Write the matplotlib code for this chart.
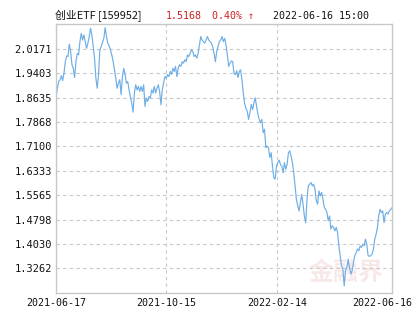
import matplotlib
matplotlib.use("Agg")
import matplotlib.pyplot as plt
from matplotlib.transforms import ScaledTranslation

plt.rcParams['font.family'] = ['Noto Sans CJK SC', 'DejaVu Sans']

# closing prices of the ETF (trading days)
prices = [
    1.864, 1.893, 1.914, 1.920, 1.933, 1.917, 1.941, 1.977, 1.995, 1.993,
    2.032, 2.009, 1.967, 1.956, 1.927, 1.977, 2.003, 1.998, 2.040, 2.066,
    2.045, 2.061, 2.040, 2.019, 2.035, 2.056, 2.082, 2.061, 2.024, 1.988,
    1.925, 1.893, 1.936, 2.014, 2.024, 2.038, 2.050, 2.084, 2.056, 2.035,
    2.027, 2.014, 1.998, 1.977, 1.951, 1.925, 1.893, 1.909, 1.920, 1.873,
    1.930, 1.956,
    1.936, 1.909, 1.914, 1.888, 1.867, 1.846, 1.818, 1.878, 1.904, 1.888,
    1.899, 1.883, 1.899, 1.883, 1.904, 1.836, 1.862, 1.852, 1.867, 1.862,
    1.888, 1.878, 1.899, 1.878, 1.893, 1.904, 1.883, 1.841, 1.888, 1.909,
    1.930, 1.925, 1.936, 1.930, 1.946, 1.937, 1.956, 1.946, 1.962, 1.930,
    1.956, 1.967, 1.962, 1.977, 1.972, 1.983, 1.977, 1.998,
    1.993, 2.003, 2.014, 2.009, 1.993, 1.998, 1.988, 2.003, 2.030, 2.056,
    2.045, 2.040, 2.035, 2.045, 2.056, 2.045, 2.040, 2.035, 2.024, 2.003,
    1.977, 2.009, 2.024, 2.040, 2.045, 2.056, 2.040, 2.050, 2.030, 1.998,
    1.962, 1.972, 1.979, 1.977, 1.941, 1.936, 1.948, 1.927, 1.946, 1.951,
    1.920, 1.878, 1.846, 1.829, 1.820,
    1.795, 1.816, 1.842, 1.826, 1.847, 1.863, 1.837, 1.811, 1.795, 1.785,
    1.795, 1.753, 1.764, 1.706, 1.711, 1.706, 1.675, 1.690, 1.648, 1.612,
    1.607, 1.648, 1.659, 1.667, 1.653, 1.648, 1.627, 1.659, 1.638, 1.653,
    1.690, 1.696, 1.680, 1.659, 1.627, 1.586, 1.544, 1.523, 1.507, 1.534,
    1.559, 1.528, 1.491, 1.470, 1.544, 1.586, 1.591, 1.596, 1.586, 1.591,
    1.575,
    1.539, 1.528, 1.570, 1.554, 1.565, 1.544, 1.518, 1.512, 1.502, 1.476,
    1.491, 1.450, 1.460, 1.455, 1.444, 1.455, 1.439, 1.397, 1.366, 1.334,
    1.324, 1.271, 1.319, 1.329, 1.355, 1.329, 1.308, 1.319, 1.345, 1.366,
    1.376, 1.387, 1.381, 1.397, 1.392, 1.402, 1.397, 1.418, 1.402, 1.366,
    1.364, 1.366, 1.371, 1.387, 1.418, 1.433, 1.455, 1.491, 1.512, 1.502,
    1.507, 1.470, 1.497, 1.502, 1.497, 1.507, 1.512, 1.5168,
]

y_tick_labels = ["1.3262", "1.4030", "1.4798", "1.5565", "1.6333",
                 "1.7100", "1.7868", "1.8635", "1.9403", "2.0171"]
y_limits = (1.2494, 2.0939)
date_labels = ["2021-06-17", "2021-10-15", "2022-02-14", "2022-06-16"]

title_name = "创业ETF [159952]"
title_price = "1.5168"
title_change = "0.40% ↑"
title_time = "2022-06-16 15:00"

mono = ['DejaVu Sans Mono']
fs = 7.2

fig = plt.figure(figsize=(4.15, 3.30), dpi=100)
ax = fig.add_axes([0.135, 0.113, 0.8096, 0.8128])

n = len(prices)
xs = list(range(n))
ax.plot(xs, prices, color='#6eaee6', linewidth=0.85)

ax.set_xlim(0, n - 1)
ax.set_ylim(*y_limits)

yticks = [float(v) for v in y_tick_labels]
ax.set_yticks(yticks)
ax.set_yticklabels(y_tick_labels, fontsize=7.5, family=mono)

xticks = [0, (n - 1) * 0.327, (n - 1) * 0.658, n - 1]
ax.set_xticks(xticks)
ax.set_xticklabels(date_labels, fontsize=fs, family=mono)
ax.tick_params(length=0, colors='#111111')
ax.tick_params(axis='y', pad=3)
ax.tick_params(axis='x', pad=4)
# last date label sits a bit inside the right edge
last = ax.get_xticklabels()[-1]
last.set_transform(last.get_transform() + ScaledTranslation(-0.10, 0, fig.dpi_scale_trans))

# dashed grid: all y ticks, only the two middle dates
for y in yticks:
    ax.axhline(y, color='#c8c8c8', linestyle=(0, (3, 3)), linewidth=0.8, zorder=0)
for x in xticks[1:3]:
    ax.axvline(x, color='#c8c8c8', linestyle=(0, (3, 3)), linewidth=0.8, zorder=0)

for s in ax.spines.values():
    s.set_color('#c8c8c8')
    s.set_linewidth(1.0)

# watermark
ax.text(0.975, 0.03, "金融界", transform=ax.transAxes, ha='right', va='bottom',
        fontsize=18, color='#e8b8b8', alpha=0.3, fontweight='bold', zorder=0)

# header line
ty = 1 - 16 / 330
fig.text(55 / 415, ty, title_name, fontsize=7.8, va='center', color='#111111')
fig.text(166 / 415, ty, title_price, fontsize=fs, va='center', color='#cc2222', family=mono)
fig.text(212 / 415, ty, title_change, fontsize=fs, va='center', color='#cc2222', family=mono)
fig.text(273 / 415, ty, title_time, fontsize=fs, va='center', color='#111111', family=mono)

fig.savefig("out.png", dpi=100)
